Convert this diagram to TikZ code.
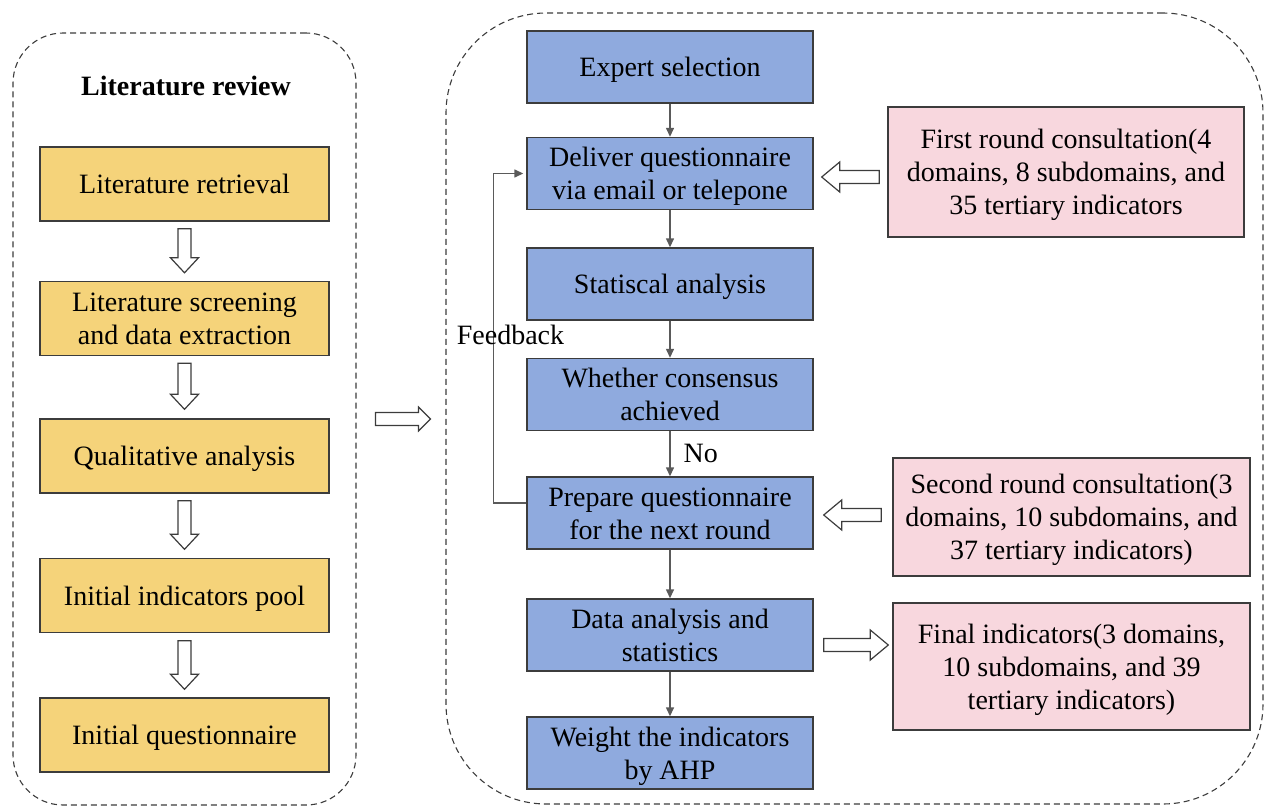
\documentclass[tikz,border=0pt]{standalone}
\usepackage{fontspec}
\setmainfont{Liberation Serif}
\usetikzlibrary{calc,arrows.meta}
\definecolor{yel}{RGB}{245,211,122}
\definecolor{blu}{RGB}{143,170,222}
\definecolor{pnk}{RGB}{248,215,222}
\definecolor{edge}{RGB}{60,60,60}
\definecolor{garrow}{RGB}{90,90,90}
\newcommand\mystrut{\rule[-7pt]{0pt}{33pt}}
\newcommand\boxbreak{\\\mystrut}
% hollow block arrow from tail #1 to tip #2: shaft half width #3, head half width #4, head length #5, name #6
\newcommand\hollowarrow[6]{%
  \coordinate (#6-n) at ($(#2)!#5!(#1)$);
  \draw[harrowline] ($(#1)!#3!90:(#2)$) -- ($(#6-n)!#3!90:(#2)$) -- ($(#6-n)!#4!90:(#2)$)
    -- (#2) -- ($(#6-n)!#4!-90:(#2)$) -- ($(#6-n)!#3!-90:(#2)$) -- ($(#1)!#3!-90:(#2)$) -- cycle;
}
\begin{document}
\begin{tikzpicture}[x=1pt,y=-1pt,
  every node/.style={font=\fontsize{28}{33}\selectfont, inner sep=0pt},
  boxtext/.style={align=center},
  ybox/.style={boxtext, draw=edge, line width=1.4pt, fill=yel, minimum width=289pt, minimum height=74pt},
  bbox/.style={boxtext, draw=edge, line width=1.4pt, fill=blu, minimum width=286pt, minimum height=72pt},
  pbox/.style={boxtext, draw=edge, line width=1.4pt, fill=pnk},
  group/.style={draw=edge, dash pattern=on 6pt off 4pt, line width=1.1pt},
  harrowline/.style={draw=edge, line width=1.2pt, fill=white, line join=miter},
  flow/.style={draw=garrow, line width=1.4pt, -{Triangle[length=9pt,width=8pt]}}
]
\useasboundingbox (0,0) rectangle (1269,806);

% dashed groups
\node[group, rounded corners=50pt, minimum width=343pt, minimum height=772pt] (lg) at (184.5,419) {};
\node[group, rounded corners=100pt, minimum width=817pt, minimum height=791pt] (rg) at (854.5,408.5) {};

% left column
\node[font=\bfseries\fontsize{28}{33}\selectfont] (title) at (186,86) {Literature review};
\node[ybox] (l1) at (184.5,184) {\mystrut Literature retrieval};
\node[ybox] (l2) at (184.5,318.5) {\mystrut Literature screening\boxbreak and data extraction};
\node[ybox] (l3) at (184.5,456) {\mystrut Qualitative analysis};
\node[ybox] (l4) at (184.5,595.5) {\mystrut Initial indicators pool};
\node[ybox] (l5) at (184.5,735) {\mystrut Initial questionnaire};

\coordinate (d1t) at ([yshift=-7pt]l1.south);   \coordinate (d1h) at ([yshift=8pt]l2.north);
\coordinate (d2t) at ([yshift=-7pt]l2.south);   \coordinate (d2h) at ([yshift=9pt]l3.north);
\coordinate (d3t) at ([yshift=-7pt]l3.south);   \coordinate (d3h) at ([yshift=8.5pt]l4.north);
\coordinate (d4t) at ([yshift=-7.5pt]l4.south); \coordinate (d4h) at ([yshift=8pt]l5.north);
\hollowarrow{d1t}{d1h}{6.5pt}{14pt}{15pt}{d1}
\hollowarrow{d2t}{d2h}{6.5pt}{14pt}{15pt}{d2}
\hollowarrow{d3t}{d3h}{6.5pt}{14pt}{15pt}{d3}
\hollowarrow{d4t}{d4h}{6.5pt}{14pt}{15pt}{d4}

% middle arrow
\coordinate (mt) at ([xshift=19pt]lg.east);
\coordinate (mh) at ($(rg.west |- mt)+(-15,0)$);
\hollowarrow{mt}{mh}{6.5pt}{12pt}{12pt}{m}

% right column
\node[bbox] (b1) at (670,67) {\mystrut Expert selection};
\node[bbox] (b2) at (670,173.5) {\mystrut Deliver questionnaire\boxbreak via email or telepone};
\node[bbox] (b3) at (670,284) {\mystrut Statiscal analysis};
\node[bbox] (b4) at (670,394.5) {\mystrut Whether consensus\boxbreak achieved};
\node[bbox] (b5) at (670,513) {\mystrut Prepare questionnaire\boxbreak for the next round};
\node[bbox] (b6) at (670,635) {\mystrut Data analysis and\boxbreak statistics};
\node[bbox] (b7) at (670,753) {\mystrut Weight the indicators\boxbreak by AHP};

\draw[flow] (b1.south) -- (b2.north);
\draw[flow] (b2.south) -- (b3.north);
\draw[flow] (b3.south) -- (b4.north);
\draw[flow] (b4.south) -- node[right=13pt] (no) {No} (b5.north);
\draw[flow] (b5.south) -- (b6.north);
\draw[flow] (b6.south) -- (b7.north);

\draw[flow, shorten >=3pt] ([yshift=10pt]b5.west) -- ++(-33,0) |- (b2.west);
\node (fb) at (510.5,335) {Feedback};

% pink boxes
\node[pbox, minimum width=356pt, minimum height=130pt] (p1) at (1066,172) {\mystrut First round consultation(4\boxbreak domains, 8 subdomains, and\boxbreak 35 tertiary indicators};
\node[pbox, minimum width=357pt, minimum height=118pt] (p2) at (1071.5,517) {\mystrut Second round consultation(3\boxbreak domains, 10 subdomains, and\boxbreak 37 tertiary indicators)};
\node[pbox, minimum width=357pt, minimum height=127pt] (p3) at (1071.5,666.5) {\mystrut Final indicators(3 domains,\boxbreak 10 subdomains, and 39\boxbreak tertiary indicators)};

\coordinate (s1t) at ([xshift=-8pt,yshift=-5pt]p1.west);
\coordinate (s1h) at ($(b2.east |- s1t)+(8,0)$);
\hollowarrow{s1t}{s1h}{6.5pt}{15pt}{18pt}{s1}
\coordinate (s2t) at ([xshift=-11pt,yshift=2pt]p2.west);
\coordinate (s2h) at ($(b5.east |- s2t)+(10,0)$);
\hollowarrow{s2t}{s2h}{6.5pt}{15pt}{18pt}{s2}
\coordinate (s3t) at ([xshift=10pt,yshift=-10pt]b6.east);
\coordinate (s3h) at ($(p3.west |- s3t)+(-4,0)$);
\hollowarrow{s3t}{s3h}{6.5pt}{15pt}{18pt}{s3}
\end{tikzpicture}
\end{document}
